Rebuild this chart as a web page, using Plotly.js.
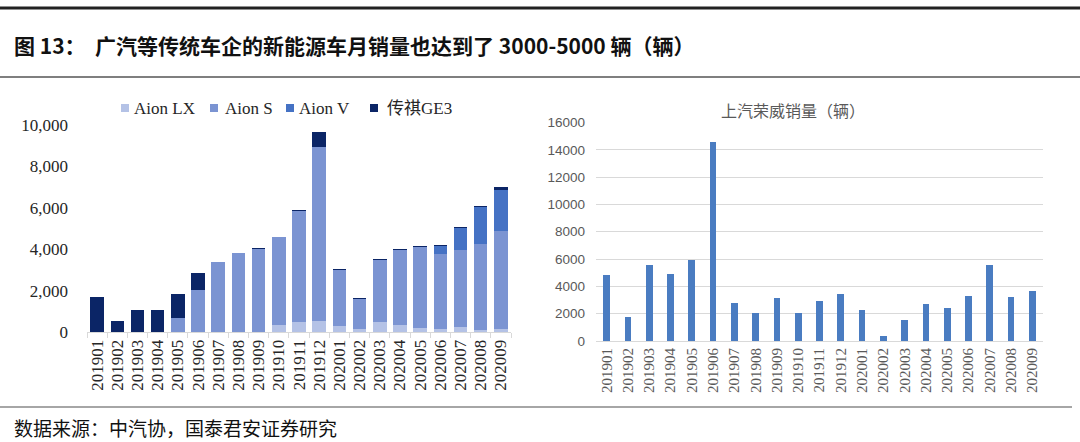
<!DOCTYPE html>
<html>
<head>
<meta charset="utf-8">
<script src="https://cdn.plot.ly/plotly-3.0.1.min.js"></script>
<style>
html,body{margin:0;padding:0;background:#fff;}
#chart{width:1080px;height:442px;}
</style>
</head>
<body>
<div id="chart"></div>
<script>
// ---- data ----
const months = ['201901','201902','201903','201904','201905','201906','201907','201908','201909','201910','201911','201912','202001','202002','202003','202004','202005','202006','202007','202008','202009'];
const aionLX = [0,0,0,0,0,0,0,0,0,330,500,520,280,140,500,330,190,130,250,80,130];
const aionS  = [0,0,0,0,660,2030,3400,3820,3990,4250,5330,8430,2720,1470,3000,3640,3940,3650,3700,4150,4750];
const aionV  = [0,0,0,0,0,0,0,0,0,0,0,0,0,0,0,0,0,380,1060,1800,1970];
const ge3    = [1700,520,1070,1070,1200,800,0,0,50,0,80,730,50,40,50,40,40,60,50,50,170];
const roewe  = [4800,1780,5540,4900,5900,14550,2750,2030,3150,2030,2930,3460,2250,370,1560,2680,2390,3300,5600,3250,3680];
const leftSeries = ['Aion LX','Aion S','Aion V','传祺GE3'];
const titleText = '图 13：  广汽等传统车企的新能源车月销量也达到了 3000-5000 辆（辆）';
const rightTitle = '上汽荣威销量（辆）';
const sourceText = '数据来源：中汽协，国泰君安证券研究';

// ---- styles ----
const colors = ['#b4c2e6','#7b94d2','#4572c4','#0b2566'];
const W = 1080, H = 442;
const px = x => x / W;
const py = y => 1 - y / H;
const serif = '"Liberation Serif", "Times New Roman", "DejaVu Serif", serif';
const serifCjk = '"Liberation Serif", "Times New Roman", "Noto Sans CJK SC", serif';
const cjk = '"Noto Sans CJK SC", sans-serif';

const leftVals = [aionLX, aionS, aionV, ge3];
const traces = leftVals.map((v, i) => ({
  type: 'bar', x: months, y: v, name: leftSeries[i],
  marker: {color: colors[i]}, xaxis: 'x', yaxis: 'y', showlegend: false
}));
traces.push({
  type: 'bar', x: months, y: roewe, name: rightTitle,
  marker: {color: '#4a7cc1'}, xaxis: 'x2', yaxis: 'y2', width: 0.32, showlegend: false
});

// custom legend
const legX = [121, 210, 286, 370];
const legTX = [131.5, 222.5, 296.5, 384.5];
const shapes = [
  {type:'line', xref:'paper', yref:'paper', x0:0, x1:1, y0:py(8), y1:py(8), line:{color:'#222', width:3}},
  {type:'line', xref:'paper', yref:'paper', x0:0, x1:1, y0:py(77), y1:py(77), line:{color:'#555', width:1.5}},
  {type:'line', xref:'paper', yref:'paper', x0:0, x1:px(1072), y0:py(407), y1:py(407), line:{color:'#888', width:1.5}}
];
const annotations = [
  {text: '<b>' + titleText + '</b>', xref:'paper', yref:'paper', x:px(12), y:py(45), xanchor:'left', yanchor:'middle', showarrow:false, font:{family:cjk, size:21, color:'#111'}},
  {text: sourceText, xref:'paper', yref:'paper', x:px(12), y:py(427), xanchor:'left', yanchor:'middle', showarrow:false, font:{family:cjk, size:19, color:'#111'}},
  {text: rightTitle, xref:'paper', yref:'paper', x:px(793), y:py(110), xanchor:'center', yanchor:'middle', showarrow:false, font:{family:cjk, size:16, color:'#595959'}}
];
leftSeries.forEach((s, i) => {
  shapes.push({type:'rect', xref:'paper', yref:'paper', x0:px(legX[i]), x1:px(legX[i]+8), y0:py(104), y1:py(112), fillcolor:colors[i], line:{width:0}});
  annotations.push({text:s, xref:'paper', yref:'paper', x:px(legTX[i]), y:py(108), xanchor:'left', yanchor:'middle', showarrow:false, font:{family:serifCjk, size:17, color:'#262626'}});
});

const layout = {
  width: W, height: H, autosize: false,
  margin: {l:0, r:0, t:0, b:0},
  paper_bgcolor: '#fff', plot_bgcolor: '#fff',
  barmode: 'stack', bargap: 0.33,
  showlegend: false,
  xaxis: {
    domain: [px(87), px(511)], type: 'category', anchor: 'y',
    tickangle: -90, tickfont: {family: serif, size: 17, color: '#262626'},
    showline: true, linecolor: '#d9d9d9', linewidth: 1,
    ticks: 'outside', tickson: 'boundaries', ticklen: 5, tickcolor: '#d9d9d9',
    showgrid: false, zeroline: false, fixedrange: true
  },
  yaxis: {
    domain: [py(332), py(125)], range: [0, 10000], dtick: 2000, tickformat: ',d',
    tickfont: {family: serif, size: 17, color: '#262626'},
    showgrid: false, zeroline: false, showline: false, ticks: '',
    ticklabelstandoff: 18, anchor: 'x', fixedrange: true
  },
  xaxis2: {
    domain: [px(596), px(1043)], type: 'category', anchor: 'y2',
    tickangle: -90, tickfont: {family: serif, size: 15, color: '#595959'},
    showline: true, linecolor: '#d9d9d9', linewidth: 1, ticks: '',
    showgrid: false, zeroline: false, fixedrange: true
  },
  yaxis2: {
    domain: [py(341), py(122.5)], range: [0, 16000], dtick: 2000, tickformat: 'd',
    tickfont: {family: '"Liberation Sans", Arial, sans-serif', size: 13.5, color: '#595959'},
    showgrid: true, gridcolor: '#d9d9d9', gridwidth: 1,
    zeroline: false, showline: false, ticks: '',
    ticklabelstandoff: 10, anchor: 'x2', fixedrange: true
  },
  shapes: shapes,
  annotations: annotations
};

Plotly.newPlot('chart', traces, layout, {staticPlot: true, displayModeBar: false});
</script>
</body>
</html>
